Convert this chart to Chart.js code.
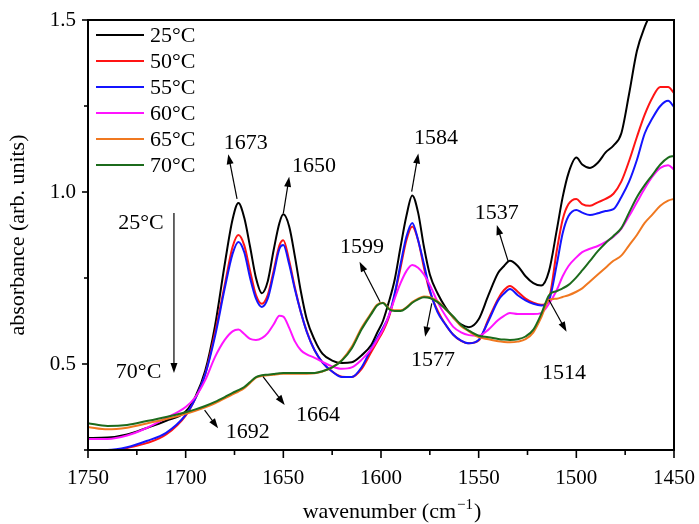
<!DOCTYPE html>
<html>
<head>
<meta charset="utf-8">
<script src="https://cdn.jsdelivr.net/npm/chart.js@4.4.1/dist/chart.umd.min.js"></script>
<style>
  html, body { margin: 0; padding: 0; background: #fff; }
  #wrap { width: 699px; height: 524px; position: relative; }
</style>
</head>
<body>
<div id="wrap"><canvas id="grafico"></canvas></div>
<script>
// ===============================
// DATA
// ===============================
const wavenumbers = [
  1750, 1740, 1730, 1720, 1710, 1700, 1695, 1690, 1685, 1680,
  1676, 1673, 1670, 1667, 1664, 1661, 1658, 1655, 1652, 1650,
  1647, 1644, 1641, 1638, 1634, 1630, 1625, 1620, 1615, 1610,
  1605, 1602, 1599, 1596, 1593, 1590, 1587, 1584, 1581, 1578,
  1575, 1571, 1567, 1563, 1559, 1555, 1550, 1545, 1540, 1537,
  1534, 1530, 1526, 1522, 1518, 1514, 1510, 1507, 1504, 1500,
  1497, 1493, 1489, 1485, 1481, 1477, 1473, 1469, 1465, 1461,
  1457, 1453, 1450
];

const temperatures = ["25°C", "50°C", "55°C", "60°C", "65°C", "70°C"];

const abs25 = [
  0.285, 0.286, 0.295, 0.314, 0.335, 0.362, 0.405, 0.48, 0.61, 0.79,
  0.92, 0.968, 0.925, 0.84, 0.75, 0.706, 0.74, 0.83, 0.91, 0.935,
  0.90, 0.81, 0.71, 0.63, 0.57, 0.53, 0.51, 0.503, 0.505, 0.525,
  0.555, 0.59, 0.625, 0.68, 0.745, 0.84, 0.93, 0.99, 0.94, 0.84,
  0.76, 0.705, 0.665, 0.635, 0.615, 0.607, 0.63, 0.70, 0.765, 0.785,
  0.80, 0.785, 0.755, 0.735, 0.728, 0.77, 0.89, 0.985, 1.055, 1.10,
  1.08, 1.07, 1.085, 1.115, 1.135, 1.17, 1.285, 1.41, 1.48, 1.53,
  1.58, 1.62, 1.65
];
const abs50 = [
  0.238, 0.242, 0.256, 0.27, 0.295, 0.35, 0.40, 0.47, 0.59, 0.73,
  0.84, 0.875, 0.845, 0.77, 0.70, 0.675, 0.70, 0.77, 0.845, 0.86,
  0.80, 0.72, 0.65, 0.595, 0.54, 0.505, 0.478, 0.463, 0.462, 0.485,
  0.535, 0.565, 0.595, 0.635, 0.70, 0.78, 0.86, 0.90, 0.86, 0.78,
  0.71, 0.655, 0.615, 0.585, 0.567, 0.56, 0.568, 0.63, 0.69, 0.715,
  0.727, 0.71, 0.69, 0.678, 0.672, 0.69, 0.83, 0.92, 0.965, 0.98,
  0.965, 0.96, 0.97, 0.98, 0.995, 1.03, 1.09, 1.16, 1.225, 1.275,
  1.305, 1.305, 1.288
];
const abs55 = [
  0.25, 0.25, 0.258, 0.276, 0.30, 0.352, 0.40, 0.47, 0.58, 0.72,
  0.82, 0.855, 0.825, 0.75, 0.69, 0.666, 0.69, 0.76, 0.835, 0.846,
  0.79, 0.715, 0.65, 0.593, 0.54, 0.505, 0.478, 0.462, 0.462, 0.49,
  0.545, 0.575, 0.605, 0.64, 0.705, 0.79, 0.87, 0.91, 0.86, 0.79,
  0.715, 0.65, 0.615, 0.585, 0.568, 0.56, 0.57, 0.625, 0.685, 0.705,
  0.718, 0.70, 0.685, 0.675, 0.67, 0.685, 0.79, 0.88, 0.93, 0.948,
  0.94, 0.933, 0.938, 0.945, 0.95, 0.985, 1.03, 1.093, 1.17, 1.215,
  1.25, 1.265, 1.247
];
const abs60 = [
  0.282, 0.282, 0.292, 0.314, 0.343, 0.375, 0.404, 0.453, 0.52, 0.57,
  0.595, 0.60, 0.587, 0.573, 0.57, 0.575, 0.59, 0.615, 0.64, 0.638,
  0.605, 0.565, 0.54, 0.528, 0.518, 0.506, 0.493, 0.486, 0.49, 0.512,
  0.543, 0.57, 0.60, 0.64, 0.69, 0.735, 0.77, 0.788, 0.78, 0.76,
  0.73, 0.68, 0.64, 0.608, 0.592, 0.584, 0.582, 0.60, 0.628, 0.64,
  0.648, 0.645, 0.645, 0.645, 0.648, 0.675, 0.715, 0.755, 0.785, 0.81,
  0.825, 0.835, 0.843, 0.855, 0.87, 0.893, 0.93, 0.97, 1.01, 1.045,
  1.07, 1.078, 1.065
];
const abs65 = [
  0.317, 0.31, 0.315, 0.327, 0.34, 0.355, 0.364, 0.374, 0.386, 0.40,
  0.412, 0.42, 0.43, 0.445, 0.46, 0.465, 0.467, 0.469, 0.471, 0.472,
  0.472, 0.472, 0.472, 0.472, 0.473, 0.478, 0.49, 0.512, 0.55, 0.605,
  0.648, 0.672, 0.678, 0.662, 0.656, 0.656, 0.665, 0.68, 0.69, 0.696,
  0.694, 0.682, 0.66, 0.636, 0.61, 0.595, 0.578, 0.572, 0.566, 0.564,
  0.563, 0.565, 0.572, 0.592, 0.635, 0.686, 0.69, 0.695, 0.70, 0.71,
  0.72, 0.74, 0.76, 0.78, 0.80, 0.815, 0.845, 0.875, 0.91, 0.935,
  0.96, 0.975, 0.98
];
const abs70 = [
  0.328, 0.32, 0.323, 0.334, 0.346, 0.36, 0.368, 0.378, 0.39, 0.404,
  0.416, 0.424, 0.433, 0.448, 0.462, 0.467, 0.469, 0.471, 0.473, 0.474,
  0.474, 0.474, 0.474, 0.474, 0.474, 0.479, 0.49, 0.51, 0.545, 0.60,
  0.645, 0.67, 0.677, 0.66, 0.654, 0.654, 0.663, 0.678, 0.688, 0.694,
  0.692, 0.68, 0.66, 0.638, 0.613, 0.597, 0.582, 0.578, 0.573, 0.571,
  0.57, 0.572, 0.58, 0.60, 0.645, 0.70, 0.712, 0.72, 0.73, 0.752,
  0.772, 0.80, 0.828, 0.852, 0.872, 0.895, 0.94, 0.985, 1.02, 1.05,
  1.08, 1.10, 1.105
];

const seriesColors = ["#000000", "#ff1414", "#1414ff", "#ff14ff", "#f07820", "#1c6b1c"];

const xTicks = [1750, 1700, 1650, 1600, 1550, 1500, 1450];
const yTicks = [0.5, 1.0, 1.5];

// peak labels (text, label position, arrow tail, arrow head) in data units
const peakText  = ["1673", "1650", "1584", "1599", "1537", "1514", "1577", "1664", "1692"];
const peakTextX = [1669.2, 1634.3, 1571.9, 1609.7, 1540.7, 1506.3, 1573.4, 1632.2, 1668.2];
const peakTextY = [1.142, 1.076, 1.157, 0.840, 0.939, 0.474, 0.512, 0.352, 0.303];
const tailX = [1673.7, 1650.0, 1584.3, 1600.5, 1534.8, 1514.0, 1574.0, 1660.4, 1690.3];
const tailY = [0.980, 0.938, 1.001, 0.681, 0.797, 0.686, 0.676, 0.463, 0.366];
const headX = [1678.2, 1647.0, 1580.9, 1611.0, 1540.7, 1505.0, 1577.4, 1649.3, 1683.4];
const headY = [1.110, 1.044, 1.112, 0.797, 0.904, 0.594, 0.579, 0.381, 0.313];

const tempArrowText = ["25°C", "70°C"];
const tempArrowTextX = [1722.9, 1724.1];
const tempArrowTextY = [0.910, 0.477];
const tempArrowX = 1706;
const tempArrowY = [0.939, 0.474];

const xTitle = ["wavenumber (cm", "−1", ")"];
const yTitle = "absorbance (arb. units)";

const SERIF = '"Liberation Serif", "Times New Roman", serif';

// ===============================
// HELPERS
// ===============================
function linha(ctx, x1, y1, x2, y2) {
  ctx.beginPath();
  ctx.moveTo(x1, y1);
  ctx.lineTo(x2, y2);
  ctx.stroke();
}

function seta(ctx, x1, y1, x2, y2) {
  const ang = Math.atan2(y2 - y1, x2 - x1);
  const c = Math.cos(ang), s = Math.sin(ang);
  linha(ctx, x1, y1, x2 - 6 * c, y2 - 6 * s);
  ctx.beginPath();
  ctx.moveTo(x2, y2);
  ctx.lineTo(x2 - 10 * c + 3.5 * s, y2 - 10 * s - 3.5 * c);
  ctx.lineTo(x2 - 10 * c - 3.5 * s, y2 - 10 * s + 3.5 * c);
  ctx.closePath();
  ctx.fill();
}

// ===============================
// PLUGIN: frame, ticks, legend, labels
// ===============================
const extras = {
  id: "extras",
  afterDraw(chart) {
    const { ctx, chartArea: a, scales: { x, y } } = chart;
    ctx.save();
    ctx.strokeStyle = "#000";
    ctx.fillStyle = "#000";

    // frame
    ctx.lineWidth = 2;
    ctx.strokeRect(a.left, a.top, a.right - a.left, a.bottom - a.top);

    // tick marks
    ctx.lineWidth = 1.6;
    x.ticks.forEach(t => {
      const px = x.getPixelForValue(t.value);
      const len = t.value % 50 === 0 ? 8 : 5;
      linha(ctx, px, a.bottom, px, a.bottom + len);
    });
    y.ticks.forEach(t => {
      const py = y.getPixelForValue(t.value);
      const len = yTicks.includes(t.value) ? 6 : 4;
      linha(ctx, a.left - len, py, a.left, py);
    });

    // legend
    ctx.font = "22px " + SERIF;
    ctx.textBaseline = "middle";
    ctx.textAlign = "left";
    chart.data.datasets.forEach((ds, i) => {
      const ly = a.top + 15 + i * 26;
      ctx.strokeStyle = ds.borderColor;
      ctx.lineWidth = 2.2;
      linha(ctx, a.left + 8, ly, a.left + 56, ly);
      ctx.fillText(ds.label, a.left + 62, ly + 1);
    });

    // peak labels with arrows
    ctx.strokeStyle = "#000";
    ctx.lineWidth = 1.2;
    ctx.textAlign = "center";
    peakText.forEach((txt, i) => {
      ctx.fillText(txt, x.getPixelForValue(peakTextX[i]), y.getPixelForValue(peakTextY[i]));
      seta(ctx,
        x.getPixelForValue(tailX[i]), y.getPixelForValue(tailY[i]),
        x.getPixelForValue(headX[i]), y.getPixelForValue(headY[i]));
    });

    // temperature arrow
    tempArrowText.forEach((txt, i) => {
      ctx.fillText(txt, x.getPixelForValue(tempArrowTextX[i]), y.getPixelForValue(tempArrowTextY[i]));
    });
    const ax = x.getPixelForValue(tempArrowX);
    seta(ctx, ax, y.getPixelForValue(tempArrowY[0]), ax, y.getPixelForValue(tempArrowY[1]));

    // axis titles
    ctx.font = "22px " + SERIF;
    ctx.textBaseline = "alphabetic";
    ctx.textAlign = "left";
    const w0 = ctx.measureText(xTitle[0]).width;
    ctx.font = "15px " + SERIF;
    const w1 = ctx.measureText(xTitle[1]).width;
    ctx.font = "22px " + SERIF;
    const w2 = ctx.measureText(xTitle[2]).width;
    const tx = (a.left + a.right) / 2 + 10 - (w0 + w1 + w2) / 2;
    const ty = 518;
    ctx.fillText(xTitle[0], tx, ty);
    ctx.font = "15px " + SERIF;
    ctx.fillText(xTitle[1], tx + w0 + 1, ty - 9);
    ctx.font = "22px " + SERIF;
    ctx.fillText(xTitle[2], tx + w0 + w1 + 2, ty);

    ctx.translate(18, (a.top + a.bottom) / 2);
    ctx.rotate(-Math.PI / 2);
    ctx.textAlign = "center";
    ctx.textBaseline = "middle";
    ctx.fillText(yTitle, 0, 0);

    ctx.restore();
  }
};

// ===============================
// CHART
// ===============================
const seriesValues = [abs25, abs50, abs55, abs60, abs65, abs70];

const datasets = seriesValues.map((vals, i) => ({
  label: temperatures[i],
  data: wavenumbers.map((w, k) => ({ x: w, y: vals[k] })),
  borderColor: seriesColors[i],
  borderWidth: 2,
  pointRadius: 0,
  fill: false,
  cubicInterpolationMode: "monotone",
  order: seriesValues.length - 1 - i
}));

new Chart(document.getElementById("grafico"), {
  type: "line",
  data: { datasets },
  options: {
    responsive: true,
    maintainAspectRatio: false,
    animation: false,
    layout: { padding: { left: 0, right: 25, top: 20, bottom: 0 } },
    plugins: {
      legend: { display: false },
      tooltip: { enabled: false }
    },
    scales: {
      x: {
        type: "linear",
        reverse: true,
        min: 1450,
        max: 1750,
        afterFit: s => {
          s.height = 74;
          s.paddingLeft = 0;
          s.paddingRight = 0;
        },
        grid: { display: false, drawTicks: false },
        border: { display: false },
        ticks: {
          stepSize: 25,
          autoSkip: false,
          maxRotation: 0,
          padding: 16,
          color: "#000",
          font: { family: SERIF, size: 21 },
          callback: v => (xTicks.includes(v) ? String(v) : "")
        }
      },
      y: {
        min: 0.25,
        max: 1.5,
        afterFit: s => {
          s.width = 88;
          s.paddingTop = 0;
          s.paddingBottom = 0;
        },
        grid: { display: false, drawTicks: false },
        border: { display: false },
        ticks: {
          stepSize: 0.25,
          padding: 12,
          color: "#000",
          font: { family: SERIF, size: 21 },
          callback: v => (yTicks.includes(v) ? v.toFixed(1) : "")
        }
      }
    }
  },
  plugins: [extras]
});
</script>
</body>
</html>
